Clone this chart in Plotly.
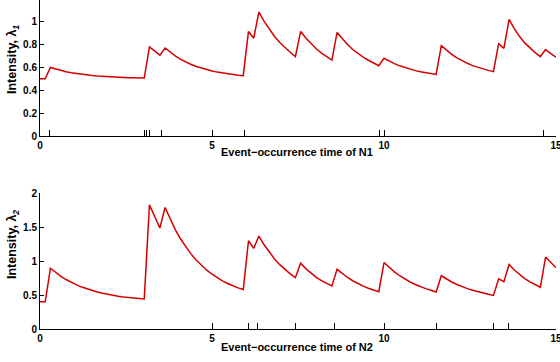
import numpy as np
import plotly.graph_objects as go

# time grid (100 samples over [0, 15])
t = np.linspace(0, 15, 100)

# intensity of process 1
lambda1 = [
    0.500, 0.500, 0.600, 0.586, 0.574, 0.563, 0.554, 0.547, 0.540, 0.535,
    0.530, 0.526, 0.522, 0.519, 0.516, 0.514, 0.512, 0.510, 0.509, 0.508,
    0.507, 0.780, 0.741, 0.707, 0.770, 0.732, 0.699, 0.671, 0.647, 0.626,
    0.608, 0.593, 0.580, 0.569, 0.559, 0.551, 0.544, 0.537, 0.532, 0.528,
    0.915, 0.856, 1.085, 1.003, 0.932, 0.871, 0.818, 0.773, 0.733, 0.695,
    0.915, 0.857, 0.806, 0.763, 0.726, 0.694, 0.664, 0.906, 0.849, 0.800,
    0.757, 0.721, 0.690, 0.663, 0.640, 0.615, 0.680, 0.655, 0.633, 0.614,
    0.598, 0.584, 0.572, 0.562, 0.553, 0.546, 0.539, 0.790, 0.749, 0.714,
    0.684, 0.658, 0.636, 0.616, 0.600, 0.586, 0.574, 0.563, 0.810, 0.766,
    1.020, 0.940, 0.870, 0.815, 0.770, 0.730, 0.695, 0.757, 0.721, 0.690,
]

# intensity of process 2
lambda2 = [
    0.400, 0.400, 0.895, 0.832, 0.777, 0.729, 0.687, 0.650, 0.618, 0.590,
    0.566, 0.545, 0.527, 0.510, 0.496, 0.484, 0.473, 0.464, 0.456, 0.449,
    0.443, 1.830, 1.648, 1.489, 1.790, 1.613, 1.458, 1.323, 1.206, 1.103,
    1.013, 0.935, 0.867, 0.807, 0.755, 0.710, 0.671, 0.636, 0.606, 0.582,
    1.300, 1.188, 1.370, 1.241, 1.129, 1.032, 0.948, 0.875, 0.812, 0.757,
    0.970, 0.890, 0.821, 0.762, 0.712, 0.668, 0.635, 0.880, 0.815, 0.759,
    0.711, 0.669, 0.632, 0.601, 0.574, 0.550, 0.980, 0.906, 0.842, 0.785,
    0.736, 0.693, 0.656, 0.623, 0.595, 0.570, 0.545, 0.785, 0.736, 0.693,
    0.656, 0.623, 0.595, 0.570, 0.548, 0.529, 0.513, 0.495, 0.740, 0.698,
    0.950, 0.870, 0.802, 0.744, 0.694, 0.651, 0.615, 1.060, 0.976, 0.902,
]

# event times (rug ticks on the time axes)
events_n1 = [0.29, 3.04, 3.10, 3.17, 3.52, 5.94, 9.88, 14.63]
events_n2 = [6.05, 6.33, 7.43, 8.55, 11.53, 13.18, 13.62]

major_ticks = [0, 5, 10, 15]
major_labels = ["0", "5", "10", "15"]

y1_ticks = [0, 0.2, 0.4, 0.6, 0.8, 1]
y1_labels = ["0", "0.2", "0.4", "0.6", "0.8", "1"]
y2_ticks = [0, 0.5, 1, 1.5, 2]
y2_labels = ["0", "0.5", "1", "1.5", "2"]

x_titles = ["Event\u2212occurrence time of N1", "Event\u2212occurrence time of N2"]
y_titles = ["Intensity, \u03bb<sub><i>1</i></sub>", "Intensity, \u03bb<sub><i>2</i></sub>"]

RED = "#d40000"
FAMILY = "Liberation Sans, Arial, sans-serif"
TICKFONT = dict(family=FAMILY, size=10, color="black", weight="bold")
TITLEFONT = dict(family=FAMILY, size=11, color="black", weight="bold")
YTITLEFONT = dict(family=FAMILY, size=12.5, color="black", weight="bold")

W, H = 560, 362
ML, MR, MT, MB = 40, 4, 0, 33
PW, PH = W - ML - MR, H - MT - MB

fig = go.Figure()
fig.add_trace(go.Scatter(x=t, y=lambda1, mode="lines", line=dict(color=RED, width=1.5),
                         xaxis="x", yaxis="y", showlegend=False, hoverinfo="skip"))
fig.add_trace(go.Scatter(x=t, y=lambda2, mode="lines", line=dict(color=RED, width=1.5),
                         xaxis="x2", yaxis="y2", showlegend=False, hoverinfo="skip"))


def xaxis_cfg(events, anchor):
    vals = list(major_ticks) + list(events)
    text = list(major_labels) + [""] * len(events)
    return dict(
        domain=[0, 1], anchor=anchor, range=[0, 15], automargin=False,
        tickmode="array", tickvals=vals, ticktext=text, ticklabeloverflow="allow",
        ticks="inside", ticklen=6, tickwidth=1, tickcolor="black",
        showline=True, linecolor="black", linewidth=1, mirror=False,
        showgrid=False, zeroline=False, tickfont=TICKFONT,
    )


def yaxis_cfg(vals, labels, rng, domain, anchor):
    return dict(
        domain=domain, anchor=anchor, range=rng, automargin=False,
        tickmode="array", tickvals=vals, ticktext=labels, ticklabeloverflow="allow",
        ticks="inside", ticklen=4, tickwidth=1, tickcolor="black",
        showline=True, linecolor="black", linewidth=1, mirror=False,
        showgrid=False, zeroline=False, tickfont=TICKFONT,
    )


def py(pix):
    # pixel row -> paper y
    return (H - MB - pix) / PH


def px(pix):
    return (pix - ML) / PW


annotations = []
for txt, ypix in zip(x_titles, [152, 347]):
    annotations.append(dict(text=txt, x=px(297), y=py(ypix), xref="paper", yref="paper",
                            xanchor="center", yanchor="middle", showarrow=False, font=TITLEFONT))
for txt, ypix in zip(y_titles, [60, 245]):
    annotations.append(dict(text=txt, x=px(13), y=py(ypix), xref="paper", yref="paper",
                            xanchor="center", yanchor="middle", showarrow=False, textangle=-90,
                            font=YTITLEFONT))

fig.update_layout(
    width=W, height=H,
    margin=dict(l=ML, r=MR, t=MT, b=MB, autoexpand=False),
    paper_bgcolor="white", plot_bgcolor="white",
    xaxis=xaxis_cfg(events_n1, "y"),
    yaxis=yaxis_cfg(y1_ticks, y1_labels, [0, 1.19], [py(136), 1.0], "x"),
    xaxis2=xaxis_cfg(events_n2, "y2"),
    yaxis2=yaxis_cfg(y2_ticks, y2_labels, [0, 2], [0.0, py(193.3)], "x2"),
    annotations=annotations,
)

fig.write_html(
    "out.html",
    config={"displayModeBar": False},
    post_script="document.body.style.margin='0';document.body.style.overflow='hidden';",
)
